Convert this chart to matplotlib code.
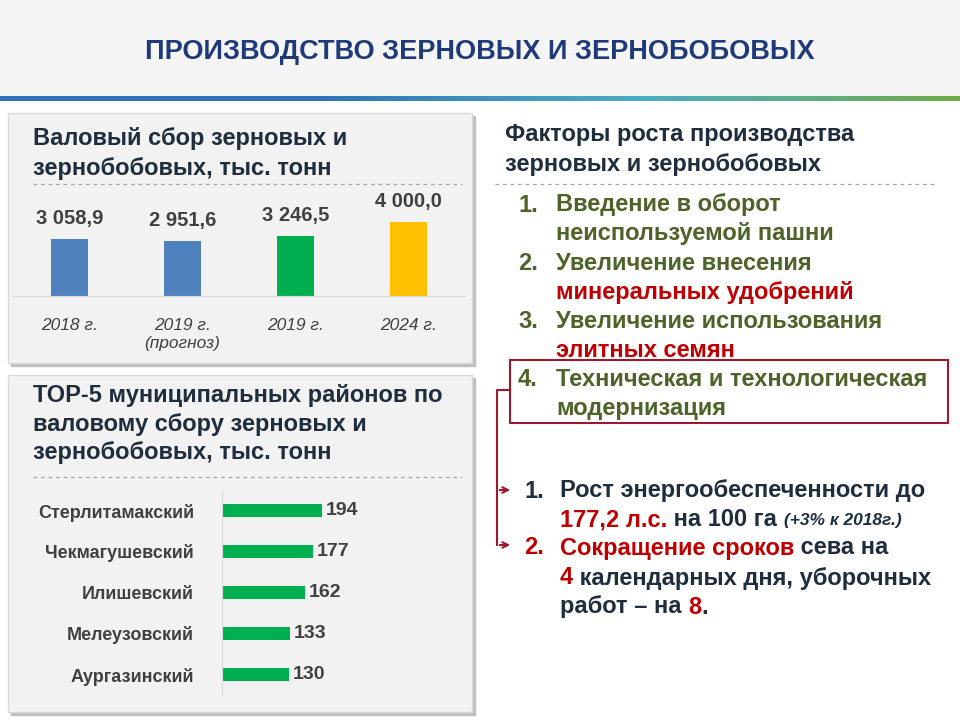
import matplotlib.pyplot as plt
from matplotlib.patches import Rectangle, FancyArrowPatch
import numpy as np

plt.rcParams['font.family'] = 'Liberation Sans'

W, H = 960, 720

years = ['2018 г.', '2019 г.\n(прогноз)', '2019 г.', '2024 г.']
harvest = [3058.9, 2951.6, 3246.5, 4000.0]
harvest_labels = ['3 058,9', '2 951,6', '3 246,5', '4 000,0']
harvest_colors = ['#4F81BD', '#4F81BD', '#00B050', '#FFC000']

districts = ['Стерлитамакский', 'Чекмагушевский', 'Илишевский',
             'Мелеузовский', 'Аургазинский']
district_vals = [194, 177, 162, 133, 130]

DARK = '#1F2D3D'
NAVY = '#1F3A7A'
OLIVE = '#4F6228'
RED = '#C00000'
FS = 17


def fx(x):
    return x / W


def fy(y):
    return 1 - y / H


def axes_px(fig, x0, y0, x1, y1):
    a = fig.add_axes([fx(x0), fy(y1), (x1 - x0) / W, (y1 - y0) / H])
    a.set_zorder(3)
    return a


fig = plt.figure(figsize=(9.6, 7.2), dpi=100)
renderer = fig.canvas.get_renderer()

# header
fig.patches.append(Rectangle((0, fy(95)), 1, 1 - fy(95), transform=fig.transFigure,
                             color='#F5F5F5', zorder=0))
fig.text(0.5, fy(52), 'ПРОИЗВОДСТВО ЗЕРНОВЫХ И ЗЕРНОБОБОВЫХ', ha='center',
         va='center', fontsize=19.5, fontweight='bold', color=NAVY)
grad = np.linspace(0, 1, 256).reshape(1, -1)
gax = axes_px(fig, 0, 96, 960, 101)
gax.imshow(grad, aspect='auto', cmap=plt.matplotlib.colors.LinearSegmentedColormap
           .from_list('g', ['#2E75B6', '#2E75B6', '#4BACC6', '#70AD47']))
gax.axis('off')

# panels
for (x0, y0, x1, y1) in [(8, 113, 472, 363), (8, 375, 472, 712)]:
    fig.patches.append(Rectangle((fx(x0 + 3), fy(y1 + 3)), (x1 - x0) / W,
                                 (y1 - y0) / H, transform=fig.transFigure,
                                 color='#BFBFBF', zorder=0))
    fig.patches.append(Rectangle((fx(x0), fy(y1)), (x1 - x0) / W,
                                 (y1 - y0) / H, transform=fig.transFigure,
                                 facecolor='#F2F2F2', edgecolor='#D9D9D9',
                                 zorder=0))


def dashed(x0, x1, y):
    fig.add_artist(plt.Line2D([fx(x0), fx(x1)], [fy(y), fy(y)], color='#A6A6A6',
                              linestyle=(0, (3, 3)), linewidth=0.9))


title_kw = dict(fontsize=FS, fontweight='bold', color=DARK, va='center')
fig.text(fx(33), fy(138), 'Валовый сбор зерновых и', **title_kw)
fig.text(fx(33), fy(168), 'зернобобовых, тыс. тонн', **title_kw)
dashed(33, 462, 184)
fig.text(fx(33), fy(395), 'ТОР-5 муниципальных районов по', **title_kw)
fig.text(fx(33), fy(424), 'валовому сбору зерновых и', **title_kw)
fig.text(fx(33), fy(453), 'зернобобовых, тыс. тонн', **title_kw)
dashed(33, 462, 477)
fig.text(fx(505), fy(135), 'Факторы роста производства', **title_kw)
fig.text(fx(505), fy(165), 'зерновых и зернобобовых', **title_kw)
dashed(495, 935, 184)

# vertical bars
ax = axes_px(fig, 13, 185, 465, 296)
xs = np.arange(len(harvest))
ax.bar(xs, harvest, width=0.32, color=harvest_colors)
for x, v, lab in zip(xs, harvest, harvest_labels):
    ax.text(x, v + 600, lab, ha='center', va='bottom', fontsize=14.5,
            fontweight='bold', color='#404040')
ax.set_xlim(-0.5, 3.5)
ax.set_ylim(0, 6000)
ax.set_xticks(xs)
ax.set_xticklabels(years, fontsize=12.5, style='italic', color='#404040',
                   va='top', linespacing=1.2)
ax.tick_params(length=0, pad=16, axis='x')
ax.set_yticks([])
for s in ['top', 'right', 'left']:
    ax.spines[s].set_visible(False)
ax.spines['bottom'].set_color('#D9D9D9')
ax.patch.set_alpha(0)

# horizontal bars
hx = axes_px(fig, 222, 490, 465, 695)
ys = np.arange(len(districts))
hx.barh(ys, district_vals, height=0.34, color='#00B050')
for y, v in zip(ys, district_vals):
    hx.text(v + 7, y, str(v), va='center', ha='left', fontsize=14,
            fontweight='bold', color='#404040')
hx.set_ylim(4.5, -0.5)
hx.set_xlim(0, 472)
hx.set_yticks(ys)
hx.set_yticklabels(districts, fontsize=13, fontweight='bold', color='#404040')
hx.tick_params(length=0, pad=20)
hx.set_xticks([])
for s in ['top', 'right', 'bottom']:
    hx.spines[s].set_visible(False)
hx.spines['left'].set_color('#D9D9D9')
hx.patch.set_alpha(0)


def seg_line(x, y, segments, size=FS):
    cur = fx(x)
    for text, color, style, fs in segments:
        t = fig.text(cur, fy(y), text, color=color, fontweight='bold',
                     style=style, fontsize=fs or size, va='center')
        bb = t.get_window_extent(renderer)
        cur += bb.width / W


# factors list
items = [
    ('1.', [[('Введение в оборот', OLIVE, 'normal', None)],
            [('неиспользуемой пашни', OLIVE, 'normal', None)]]),
    ('2.', [[('Увеличение внесения', OLIVE, 'normal', None)],
            [('минеральных удобрений', RED, 'normal', None)]]),
    ('3.', [[('Увеличение использования', OLIVE, 'normal', None)],
            [('элитных семян', RED, 'normal', None)]]),
    ('4.', [[('Техническая и технологическая', OLIVE, 'normal', None)],
            [('модернизация', OLIVE, 'normal', None)]]),
]
y = 205
for num, lines in items:
    fig.text(fx(518), fy(y), num, color=OLIVE, fontweight='bold', fontsize=FS,
             va='center')
    for ln in lines:
        seg_line(556, y, ln)
        y += 29

fig.patches.append(Rectangle((fx(510), fy(423)), 438 / W, 63 / H,
                             transform=fig.transFigure, fill=False,
                             edgecolor='#A0182F', linewidth=1.5))
fig.add_artist(plt.Line2D([fx(510), fx(497), fx(497)],
                          [fy(390), fy(390), fy(545)], color='#A0182F',
                          linewidth=1.5))
for yy in (490, 545):
    fig.add_artist(FancyArrowPatch((fx(497), fy(yy)), (fx(513), fy(yy)),
                                   transform=fig.transFigure, arrowstyle='->',
                                   mutation_scale=10, color='#A0182F',
                                   linewidth=1.5))

fig.text(fx(524), fy(491), '1.', color=DARK, fontweight='bold', fontsize=FS,
         va='center')
seg_line(560, 491, [('Рост энергообеспеченности до', DARK, 'normal', None)])
seg_line(560, 520, [('177,2 л.с.', RED, 'normal', None),
                    (' на 100 га ', DARK, 'normal', None),
                    ('(+3% к 2018г.)', DARK, 'italic', 12.5)])
fig.text(fx(524), fy(548), '2.', color=RED, fontweight='bold', fontsize=FS,
         va='center')
seg_line(560, 548, [('Сокращение сроков', RED, 'normal', None),
                    (' сева на', DARK, 'normal', None)])
seg_line(560, 578, [('4', RED, 'normal', None),
                    (' календарных дня, уборочных', DARK, 'normal', None)])
seg_line(560, 607, [('работ – на ', DARK, 'normal', None),
                    ('8', RED, 'normal', None), ('.', DARK, 'normal', None)])

fig.savefig('out.png', dpi=100)
